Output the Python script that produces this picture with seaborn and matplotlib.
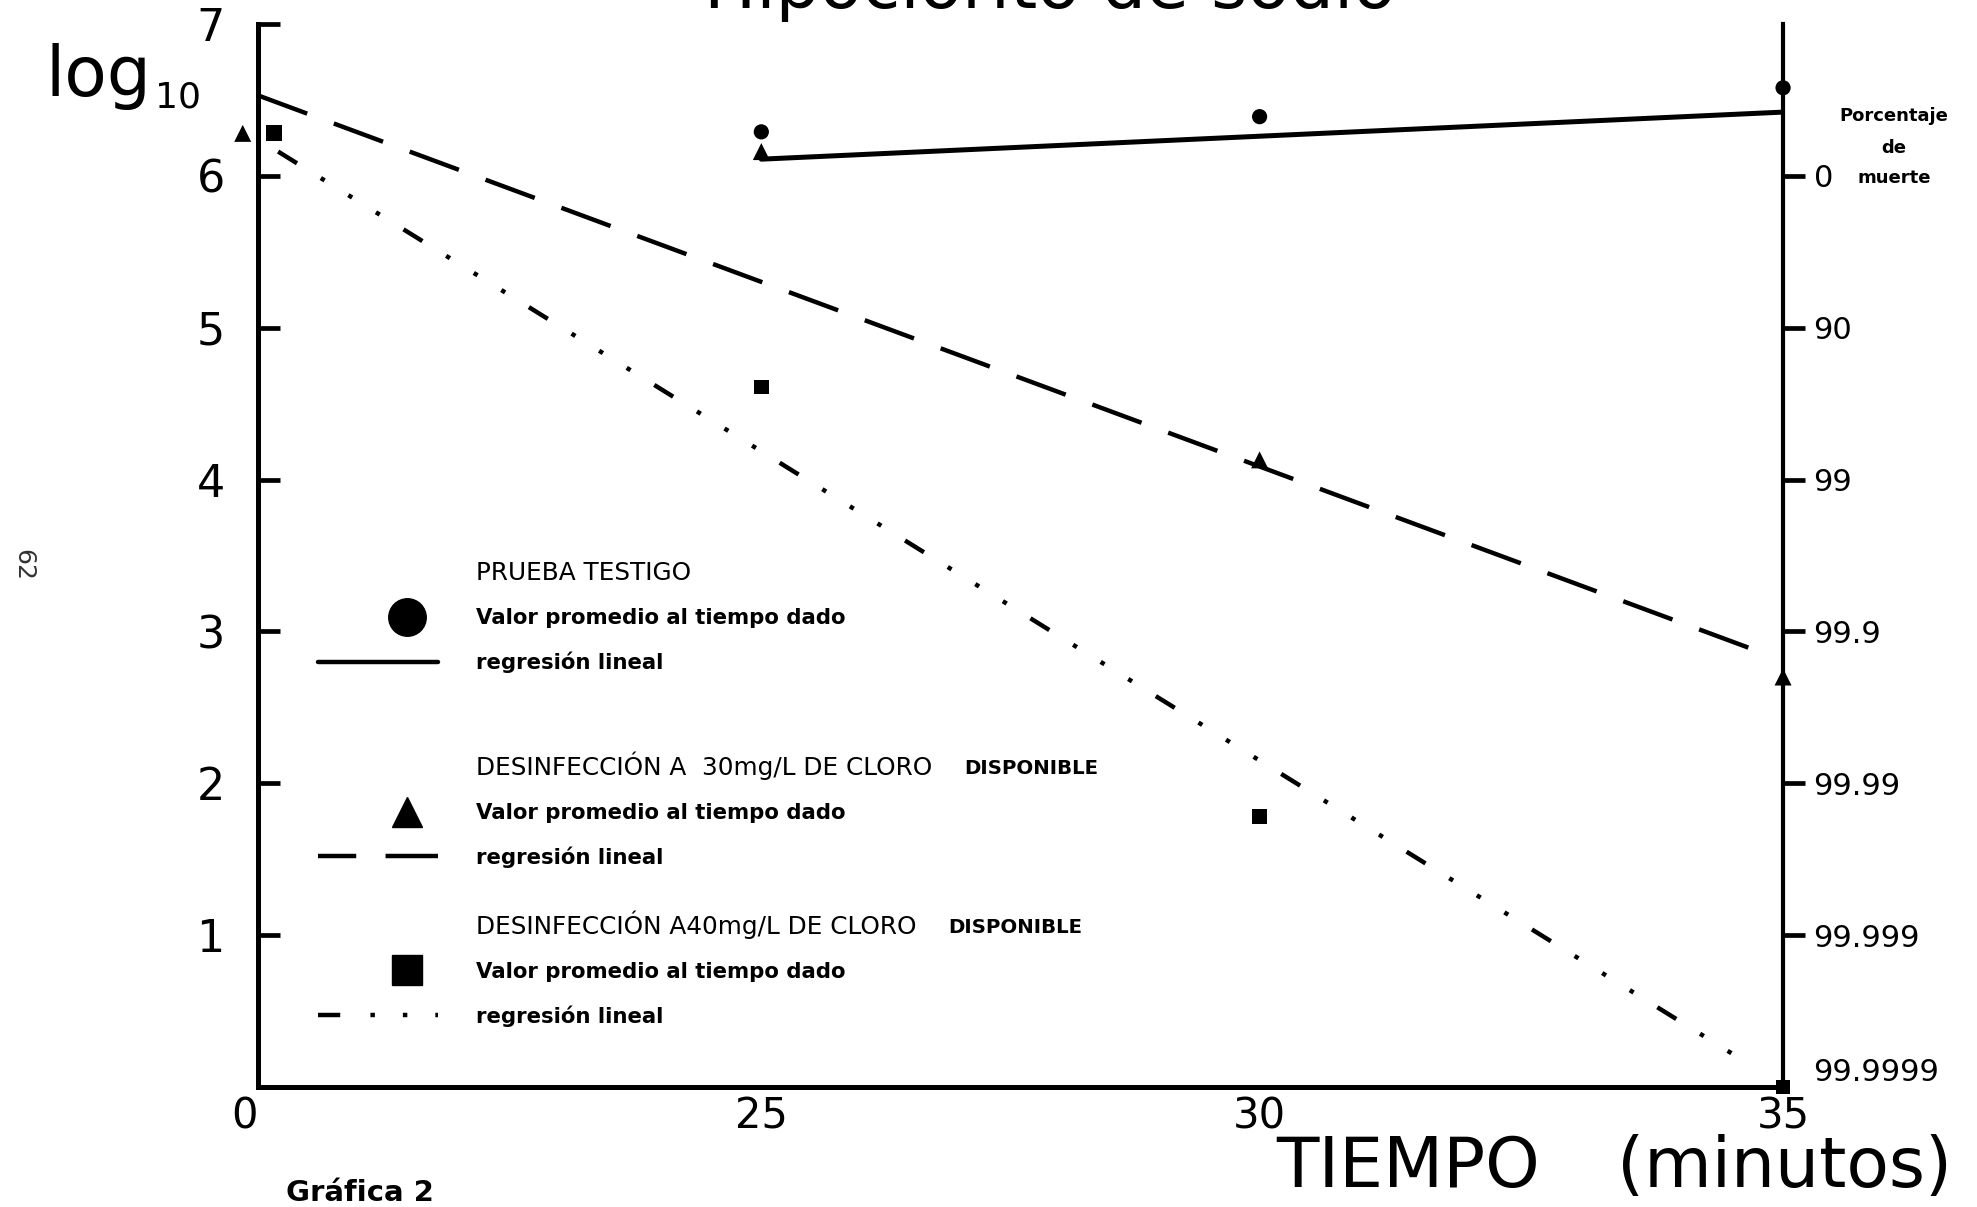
import numpy as np
import matplotlib
matplotlib.use("Agg")
import matplotlib.pyplot as plt
from matplotlib.lines import Line2D
from matplotlib.transforms import offset_copy
import seaborn as sns

# tiempo de contacto (minutos) y log10 de la cuenta
t_testigo = [25, 30, 35]
log_testigo = [6.29, 6.39, 6.58]

t_cloro30 = [0, 25, 30, 35]
log_cloro30 = [6.28, 6.16, 4.13, 2.70]

t_cloro40 = [0, 25, 30, 35]
log_cloro40 = [6.28, 4.61, 1.78, 0.0]

# extremos de las rectas de regresion
reg_testigo_t = [25, 35]
reg_testigo_y = [6.11, 6.42]
reg_cloro30_t = [0, 34.8]
reg_cloro30_y = [6.53, 2.86]
reg_cloro40_t = [1.0, 34.7]
reg_cloro40_y = [6.16, 0.14]

# ejes
x_ticks = [0, 25, 30, 35]
x_pos = [0, 1, 1.99, 3.03]   # eje de tiempo cortado entre 0 y 25
y_ticks = [1, 2, 3, 4, 5, 6, 7]
pct_ticks = [0, 1, 2, 3, 4, 5, 6]
pct_labels = ['99.9999', '99.999', '99.99', '99.9', '99', '90', '0']

sns.set_style('white')
plt.rcParams['font.family'] = ['DejaVu Sans']
plt.rcParams['text.color'] = 'black'

fig = plt.figure(figsize=(19.77, 12.07), dpi=100)
ax = fig.add_axes([0.1305, 0.0994, 0.7714, 0.8807])

ax.set_xscale('function', functions=(lambda v: np.interp(v, x_ticks, x_pos),
                                     lambda p: np.interp(p, x_pos, x_ticks)))
ax.set_xlim(0, 35)
ax.set_ylim(0, 7)

# lineas de regresion
sns.lineplot(x=reg_testigo_t, y=reg_testigo_y, color='black', lw=3.6, ax=ax)
sns.lineplot(x=reg_cloro30_t, y=reg_cloro30_y, color='black', lw=3.2,
             linestyle=(0, (11.8, 6.4)), ax=ax)
sns.lineplot(x=reg_cloro40_t, y=reg_cloro40_y, color='black', lw=3.2,
             linestyle=(0, (5, 6.3, 1, 6.3, 1, 6.3, 1, 6.3)), ax=ax)

# puntos (los de t=0 se separan un poco del eje para que se vean)
left_shift = offset_copy(ax.transData, fig=fig, x=-11, y=0, units='points')
right_shift = offset_copy(ax.transData, fig=fig, x=11.5, y=0, units='points')
kw = dict(color='black', edgecolor='none', ax=ax, clip_on=False, zorder=5, legend=False)
sns.scatterplot(x=t_testigo, y=log_testigo, marker='o', s=120, **kw)
sns.scatterplot(x=t_cloro30[1:], y=log_cloro30[1:], marker='^', s=150, **kw)
sns.scatterplot(x=t_cloro30[:1], y=log_cloro30[:1], marker='^', s=150, transform=left_shift, **kw)
sns.scatterplot(x=t_cloro40[1:], y=log_cloro40[1:], marker='s', s=110, **kw)
sns.scatterplot(x=t_cloro40[:1], y=log_cloro40[:1], marker='s', s=130, transform=right_shift, **kw)

# ejes y marcas
for side in ['top', 'right']:
    ax.spines[side].set_visible(False)
for side in ['left', 'bottom']:
    ax.spines[side].set_linewidth(3.6)
    ax.spines[side].set_color('black')
ax.set_xticks(x_ticks)
ax.set_xticklabels([str(v) for v in x_ticks])
ax.set_yticks(y_ticks)
ax.set_yticklabels([str(v) for v in y_ticks])
ax.tick_params(axis='y', direction='in', length=16, width=3.4, pad=24, labelsize=32, colors='black')
ax.tick_params(axis='x', direction='in', length=18, width=2.2, pad=6, labelsize=30, colors='black')
ax.get_xticklabels()[0].set_horizontalalignment('right')
ax.set_xlabel('')
ax.set_ylabel('')

ax2 = ax.twinx()
ax2.set_ylim(0, 7)
for side in ['top', 'left', 'bottom']:
    ax2.spines[side].set_visible(False)
ax2.spines['right'].set_linewidth(3)
ax2.spines['right'].set_color('black')
ax2.set_yticks(pct_ticks)
ax2.set_yticklabels(pct_labels)
ax2.tick_params(axis='y', direction='out', length=16, width=3.4, pad=6, labelsize=22, colors='black')
ax2.yaxis.get_major_ticks()[0].tick2line.set_visible(False)
ax2.get_yticklabels()[0].set_verticalalignment('bottom')

# leyenda en tres bloques
blank = Line2D([], [], linestyle='none')
keys = [
    ('PRUEBA TESTIGO', 'o', 27, '-', 0.495),
    ('DESINFECCIÓN A  30mg/L DE CLORO', '^', 22, (0, (8.6, 6.6, 30, 5)), 0.316),
    ('DESINFECCIÓN A40mg/L DE CLORO', 's', 21, (0, (5, 6.8, 1, 6.3, 1, 6.3, 1, 30)), 0.1665),
]
for i, (header, mk, ms, ls, top) in enumerate(keys):
    handles = [blank,
               Line2D([], [], linestyle='none', marker=mk, markersize=ms, color='black'),
               Line2D([], [], color='black', lw=3.2, linestyle=ls)]
    labels = [header, 'Valor promedio al tiempo dado', 'regresión lineal']
    leg = ax.legend(handles, labels, loc='upper left', bbox_to_anchor=(0.0393, top),
                    frameon=False, fontsize=15.3, handlelength=5.65, handletextpad=1.8,
                    labelspacing=1.1, borderpad=0, borderaxespad=0, labelcolor='black')
    texts = leg.get_texts()
    texts[0].set_fontsize(17.8)
    for txt in texts[1:]:
        txt.set_fontweight('bold')
    mline = leg.legend_handles[1]
    mline.set_xdata(np.asarray(mline.get_xdata()) + 21)
    if i < len(keys) - 1:
        ax.add_artist(leg)
    if i > 0:
        ax.annotate('DISPONIBLE', xy=(1, 0), xycoords=texts[0],
                    xytext=(23, 1), textcoords='offset points',
                    fontsize=14.2, fontweight='bold', va='bottom', zorder=10)

# textos
fig.text(0.531, 1 - 8 / 1207, 'Hipoclorito de sodio', ha='center', va='baseline', fontsize=50)
log_txt = fig.text(45 / 1977, 1 - 96 / 1207, 'log', ha='left', va='baseline', fontsize=50)
ax.annotate('10', xy=(1, 0), xycoords=log_txt, xytext=(3, 1.5), textcoords='offset points',
            fontsize=26, va='baseline', ha='left', annotation_clip=False, zorder=10)
fig.text(1276 / 1977, 1 - 1187 / 1207, 'TIEMPO', ha='left', va='baseline', fontsize=50)
fig.text(1952 / 1977, 1 - 1187 / 1207, '(minutos)', ha='right', va='baseline', fontsize=50)
fig.text(360 / 1977, 1 - 1193 / 1207, 'Gráfica 2', ha='center', va='center', fontsize=21, fontweight='bold')
fig.text(23 / 1977, 1 - 565 / 1207, '62', ha='center', va='center', rotation=-90, fontsize=18, color='#333333')
for label, yy in [('Porcentaje', 116), ('de', 148), ('muerte', 178)]:
    fig.text(1894 / 1977, 1 - yy / 1207, label, ha='center', va='center', fontsize=13, fontweight='bold')

fig.savefig('out.png', dpi=100, facecolor='white')
